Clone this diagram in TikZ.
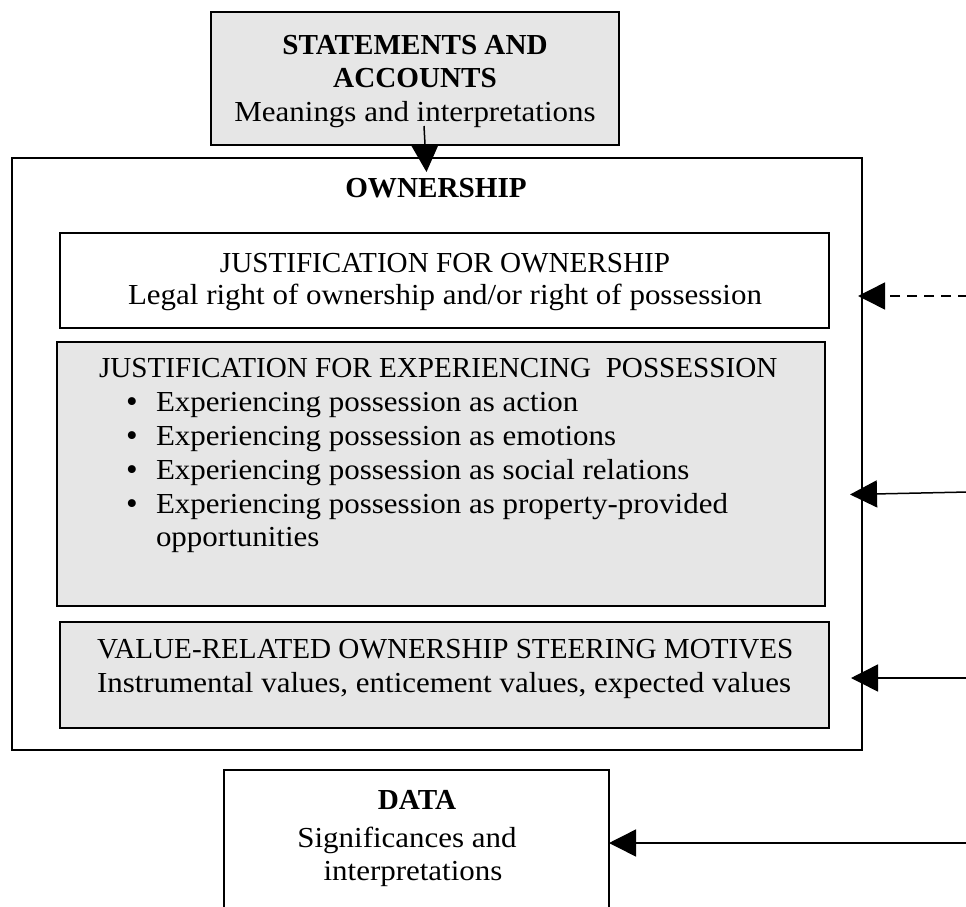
\documentclass[tikz,border=0pt]{standalone}
\usepackage{fontspec}
\setmainfont{Liberation Serif}[FakeStretch=1.005]
\newfontfamily\lcfont{Liberation Serif}[FakeStretch=1.068]
\usetikzlibrary{arrows.meta}
\definecolor{boxgray}{RGB}{230,230,230}
\begin{document}
\begin{tikzpicture}[x=1pt,y=-1pt,
  every node/.style={font=\fontsize{29}{34}\selectfont, inner sep=0pt, outer sep=0pt},
  frame/.style={draw, line width=1.6pt, rectangle, anchor=north west},
  txt/.style={text height=20pt, text depth=6pt, yshift=-2pt},
  lc/.style={txt, font=\fontsize{29}{34}\selectfont\lcfont},
  bold/.style={txt, font=\fontsize{29}{34}\selectfont\bfseries},
  bul/.style={font=\fontsize{33}{34}\selectfont, text height=14pt, text depth=0pt, anchor=base, yshift=-10pt},
  arr/.style={line width=1.5pt, -{Triangle[length=27pt,width=27pt]}}]
\useasboundingbox (0,0) rectangle (966,907);
\fill[white] (0,0) rectangle (966,907);

% boxes
\node[frame, minimum width=850pt, minimum height=592pt] (outer) at (12,158) {};
\node[frame, line width=2.4pt, fill=boxgray, minimum width=408pt, minimum height=133pt] (stmt) at (211,12) {};
\node[frame, fill=white, minimum width=769pt, minimum height=95pt] (just) at (60,233) {};
\node[frame, line width=2.8pt, fill=boxgray, minimum width=768pt, minimum height=264pt] (exper) at (57,342) {};
\node[frame, fill=boxgray, minimum width=769pt, minimum height=106pt] (value) at (60,622) {};
\node[frame, minimum width=385pt, minimum height=146pt] (data) at (224,770) {};

% texts
\node[bold] (t1) at (415,46) {STATEMENTS AND};
\node[bold] (t2) at (415,79) {ACCOUNTS};
\node[lc] (t3) at (415,112) {Meanings and interpretations};
\node[bold] (own) at (436,188) {OWNERSHIP};
\node[txt] (j1) at (445,263) {JUSTIFICATION FOR OWNERSHIP};
\node[lc] (j2) at (445,295) {Legal right of ownership and/or right of possession};
\node[txt, anchor=west] (e0) at (99,368) {JUSTIFICATION FOR EXPERIENCING\ \ POSSESSION};
\node[bul] (b1) at (132,402) {\textbullet};
\node[lc, anchor=west] (e1) at (156,402) {Experiencing possession as action};
\node[bul] (b2) at (132,436) {\textbullet};
\node[lc, anchor=west] (e2) at (156,436) {Experiencing possession as emotions};
\node[bul] (b3) at (132,470) {\textbullet};
\node[lc, anchor=west] (e3) at (156,470) {Experiencing possession as social relations};
\node[bul] (b4) at (132,504) {\textbullet};
\node[lc, anchor=west] (e4) at (156,504) {Experiencing possession as property-provided};
\node[lc, anchor=west] (e5) at (156,537) {opportunities};
\node[txt, anchor=west] (v1) at (97,649) {VALUE-RELATED OWNERSHIP STEERING MOTIVES};
\node[lc, anchor=west] (v2) at (97,683) {Instrumental values, enticement values, expected values};
\node[bold] (d1) at (417,800) {DATA};
\node[lc] (d2) at (407,838) {Significances and};
\node[lc] (d3) at (413,871) {interpretations};

% connector end points
\coordinate (s0) at (424,126);
\coordinate (e0t) at (426.5,172);
\coordinate (s1) at (968,296);
\coordinate (e1t) at (858,296);
\coordinate (s2) at (968,492);
\coordinate (e2t) at (850,494.5);
\coordinate (s3) at (968,678);
\coordinate (e3t) at (851,678);
\coordinate (s4) at (968,843);

% connectors
\draw[arr] (s0) -- (e0t);
\draw[arr, dash pattern=on 10pt off 7pt] (s1) -- (e1t);
\draw[arr] (s2) -- (e2t);
\draw[arr] (s3) -- (e3t);
\draw[arr] (s4) -- (data.east);
\end{tikzpicture}
\end{document}
